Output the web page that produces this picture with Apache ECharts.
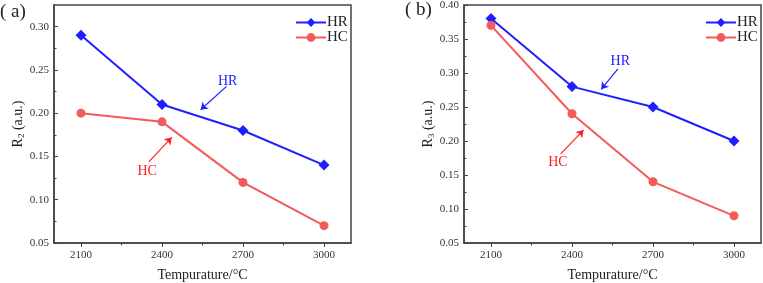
<!DOCTYPE html>
<html>
<head>
    <meta charset="utf-8">
    <title>R2 / R3 vs temperature</title>
    <script src="https://cdn.jsdelivr.net/npm/echarts@6/dist/echarts.min.js"></script>
    <style>
        html, body { margin: 0; padding: 0; background: #fff; }
        #chart { width: 763px; height: 283px; }
    </style>
</head>
<body>
<div id="chart"></div>
<script>
    // data
    var temps = [2100, 2400, 2700, 3000];
    var xTicks = [2100, 2400, 2700, 3000];
    var xMinor = [2250, 2550, 2850];

    var hrA = [0.29, 0.21, 0.18, 0.14];
    var hcA = [0.20, 0.19, 0.12, 0.07];
    var yTicksA = [0.05, 0.10, 0.15, 0.20, 0.25, 0.30];
    var yMinorA = [0.075, 0.125, 0.175, 0.225, 0.275];

    var hrB = [0.38, 0.28, 0.25, 0.20];
    var hcB = [0.37, 0.24, 0.14, 0.09];
    var yTicksB = [0.05, 0.10, 0.15, 0.20, 0.25, 0.30, 0.35, 0.40];
    var yMinorB = [0.075, 0.125, 0.175, 0.225, 0.275, 0.325, 0.375];

    var FONT = '"Liberation Serif", "DejaVu Serif", serif';
    var BLUE = '#2020ff';
    var RED = '#f25b5b';
    var AXIS = '#444';

    function pairs(xs, ys) {
        return xs.map(function (x, i) { return [x, ys[i]]; });
    }

    function xAxes(grid) {
        return [{
            type: 'value', gridIndex: grid, position: 'bottom', min: 2000, max: 3100,
            name: 'Tempurature/°C', nameLocation: 'middle', nameGap: 25,
            nameTextStyle: { fontFamily: FONT, fontSize: 14, color: '#222' },
            axisLine: { lineStyle: { color: AXIS, width: 1.5 } },
            axisTick: { customValues: xTicks, length: 4, inside: false, lineStyle: { color: AXIS } },
            axisLabel: {
                customValues: xTicks, fontFamily: FONT, fontSize: 11, color: '#333', margin: 7,
                formatter: function (v) { return String(v); }
            },
            splitLine: { show: false }
        }, {
            type: 'value', gridIndex: grid, position: 'bottom', offset: 0, min: 2000, max: 3100,
            axisLine: { show: false },
            axisTick: { customValues: xMinor, length: 2.5, lineStyle: { color: AXIS } },
            axisLabel: { show: false },
            splitLine: { show: false }
        }];
    }

    function yAxes(grid, max, ticks, minor, sub) {
        return [{
            type: 'value', gridIndex: grid, position: 'left', min: 0.05, max: max,
            name: 'R{s|' + sub + '} (a.u.)', nameLocation: 'middle', nameGap: 28,
            nameTextStyle: {
                fontFamily: FONT, fontSize: 14, color: '#222',
                rich: { s: { fontFamily: FONT, fontSize: 9, color: '#222', verticalAlign: 'bottom', padding: [6, 0, 0, 0] } }
            },
            axisLine: { lineStyle: { color: AXIS, width: 1.5 } },
            axisTick: { customValues: ticks, inside: true, length: 4, lineStyle: { color: AXIS } },
            axisLabel: {
                customValues: ticks, fontFamily: FONT, fontSize: 11, color: '#333', margin: 5,
                formatter: function (v) { return v.toFixed(2); }
            },
            splitLine: { show: false }
        }, {
            type: 'value', gridIndex: grid, position: 'left', offset: 0, min: 0.05, max: max,
            axisLine: { show: false },
            axisTick: { customValues: minor, inside: true, length: 2.5, lineStyle: { color: AXIS } },
            axisLabel: { show: false },
            splitLine: { show: false }
        }];
    }

    function arrow(color, from, to) {
        return {
            silent: true, symbol: ['none', 'arrow'], symbolSize: 7,
            lineStyle: { color: color, width: 1.2, type: 'solid' },
            label: { show: false },
            data: [[{ coord: from }, { coord: to }]]
        };
    }

    function note(color, text, at) {
        return {
            silent: true,
            data: [{
                coord: at, symbol: 'circle', symbolSize: 0,
                label: { show: true, position: 'inside', formatter: text, color: color, fontFamily: FONT, fontSize: 14 }
            }]
        };
    }

    function series(grid, hr, hc, ann) {
        return [{
            name: 'HR', type: 'line', xAxisIndex: grid * 2, yAxisIndex: grid * 2,
            data: pairs(temps, hr), symbol: 'diamond', symbolSize: 11,
            lineStyle: { color: BLUE, width: 2 }, itemStyle: { color: BLUE },
            markLine: arrow(BLUE, ann.hrFrom, ann.hrTo),
            markPoint: note(BLUE, 'HR', ann.hrText)
        }, {
            name: 'HC', type: 'line', xAxisIndex: grid * 2, yAxisIndex: grid * 2,
            data: pairs(temps, hc), symbol: 'circle', symbolSize: 9,
            lineStyle: { color: RED, width: 2 }, itemStyle: { color: RED },
            markLine: arrow('#ff2020', ann.hcFrom, ann.hcTo),
            markPoint: note('#ff2020', 'HC', ann.hcText)
        }];
    }

    function legend(left) {
        return {
            orient: 'vertical', left: left, top: 10, itemWidth: 30, itemHeight: 11, itemGap: 0,
            data: ['HR', 'HC'],
            textStyle: { fontFamily: FONT, fontSize: 15, color: '#222', padding: [0, 0, 0, -4] }
        };
    }

    function grid(left) {
        return {
            left: left, top: 5, width: 297, height: 238, outerBoundsMode: 'none', containLabel: false,
            show: true, borderColor: AXIS, borderWidth: 1.5, backgroundColor: 'transparent'
        };
    }

    var chart = echarts.init(document.getElementById('chart'));
    chart.setOption({
        animation: false,
        backgroundColor: '#fff',
        grid: [grid(54), grid(464)],
        xAxis: xAxes(0).concat(xAxes(1)),
        yAxis: yAxes(0, 0.325, yTicksA, yMinorA, '2').concat(yAxes(1, 0.40, yTicksB, yMinorB, '3')),
        legend: [legend(290), legend(700)],
        graphic: [
            { type: 'text', left: 0, top: 3, style: { text: '( a)', fontFamily: FONT, fontSize: 19, fill: '#222' } },
            { type: 'text', left: 405, top: 1, style: { text: '( b)', fontFamily: FONT, fontSize: 19, fill: '#222' } }
        ],
        series: series(0, hrA, hcA, {
            hrText: [2643, 0.237], hrFrom: [2639, 0.231], hrTo: [2543, 0.204],
            hcText: [2345, 0.133], hcFrom: [2352, 0.144], hcTo: [2436, 0.172]
        }).concat(series(1, hrB, hcB, {
            hrText: [2579, 0.317], hrFrom: [2570, 0.306], hrTo: [2508, 0.276],
            hcText: [2348, 0.168], hcFrom: [2358, 0.181], hcTo: [2443, 0.216]
        }))
    });
</script>
</body>
</html>
